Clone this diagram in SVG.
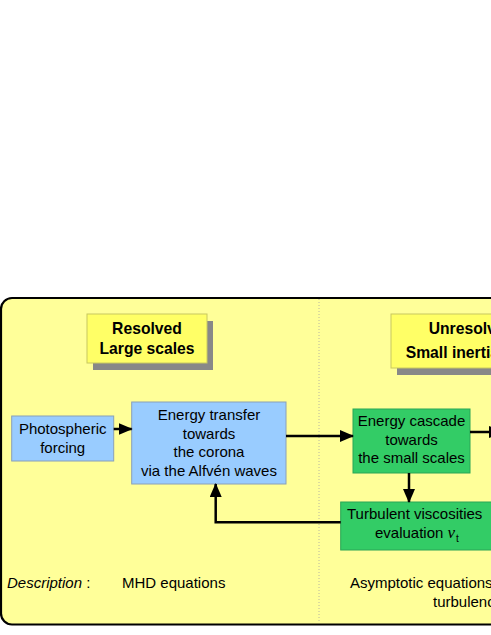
<svg xmlns="http://www.w3.org/2000/svg" width="491" height="635" viewBox="0 0 491 635">
<defs>
<style>
text{font-family:"Liberation Sans",Arial,sans-serif;font-size:15px;fill:#000}
.b{font-weight:bold;font-size:15.7px}
.m{text-anchor:middle}
.lbl{fill:#ffff66;stroke:#c8c860;stroke-width:1}
.sh{fill:#888888}
.blue{fill:#99ccff;stroke:#8aa0b8;stroke-width:1}
.green{fill:#33cc66;stroke:#2aa656;stroke-width:1}
.c{fill:none;stroke:#000;stroke-width:2.5}
</style>
<marker id="ah" markerUnits="userSpaceOnUse" markerWidth="14" markerHeight="12" viewBox="0 0 14 12" refX="13" refY="6" orient="auto">
<path d="M0,0 L14,6 L0,12 Z" fill="#000"/>
</marker>
</defs>
<rect x="1" y="298" width="600" height="326.5" rx="11" fill="#ffff99" stroke="#000" stroke-width="2.2"/>
<line x1="319" y1="299" x2="319" y2="623" stroke="#b8b8a0" stroke-width="1" stroke-dasharray="1,2"/>

<g id="resolved">
<rect class="sh" x="93" y="321" width="120" height="49"/>
<rect class="lbl" x="87" y="314" width="120" height="49"/>
<text class="b m" x="147" y="334">Resolved</text>
<text class="b m" x="147" y="354">Large scales</text>
</g>
<g id="unresolved">
<rect class="sh" x="397" y="321" width="200" height="54"/>
<rect class="lbl" x="391" y="314" width="200" height="54"/>
<text class="b" x="428.7" y="334">Unresolved</text>
<text class="b" x="405.7" y="358">Small inertial scales</text>
</g>

<g id="photospheric">
<rect class="blue" x="11.7" y="416" width="102" height="45"/>
<text class="m" x="62.7" y="434">Photospheric</text>
<text class="m" x="62.7" y="453">forcing</text>
</g>
<g id="energy-transfer">
<rect class="blue" x="131.7" y="402" width="154.3" height="82"/>
<text class="m" x="209" y="420">Energy transfer</text>
<text class="m" x="209" y="438.5">towards</text>
<text class="m" x="209" y="457">the corona</text>
<text class="m" x="209" y="476">via the Alfvén waves</text>
</g>
<g id="energy-cascade">
<rect class="green" x="353" y="409" width="117" height="64"/>
<text class="m" x="411.5" y="426">Energy cascade</text>
<text class="m" x="411.5" y="445">towards</text>
<text class="m" x="411.5" y="463">the small scales</text>
</g>
<g id="turbulent">
<rect class="green" x="340.7" y="502" width="200" height="48"/>
<text x="347" y="519">Turbulent viscosities</text>
<text x="375" y="538">evaluation <tspan font-family="'Liberation Serif',serif" font-style="italic" font-size="17">ν</tspan><tspan font-size="10" dy="4" dx="1">t</tspan></text>
</g>

<g id="connectors">
<line class="c" x1="113.7" y1="429" x2="131.7" y2="429" marker-end="url(#ah)"/>
<line class="c" x1="286" y1="436" x2="353" y2="436" marker-end="url(#ah)"/>
<line class="c" x1="470" y1="432" x2="502" y2="432" marker-end="url(#ah)"/>
<line class="c" x1="409" y1="473" x2="409" y2="502" marker-end="url(#ah)"/>
<polyline class="c" points="340.7,522.3 215.7,522.3 215.7,484" marker-end="url(#ah)"/>
</g>

<g id="description">
<text x="7" y="588"><tspan font-style="italic">Description</tspan> :</text>
<text x="122" y="588">MHD equations</text>
<text x="350" y="588">Asymptotic equations</text>
<text x="433" y="607">turbulence</text>
</g>
</svg>
